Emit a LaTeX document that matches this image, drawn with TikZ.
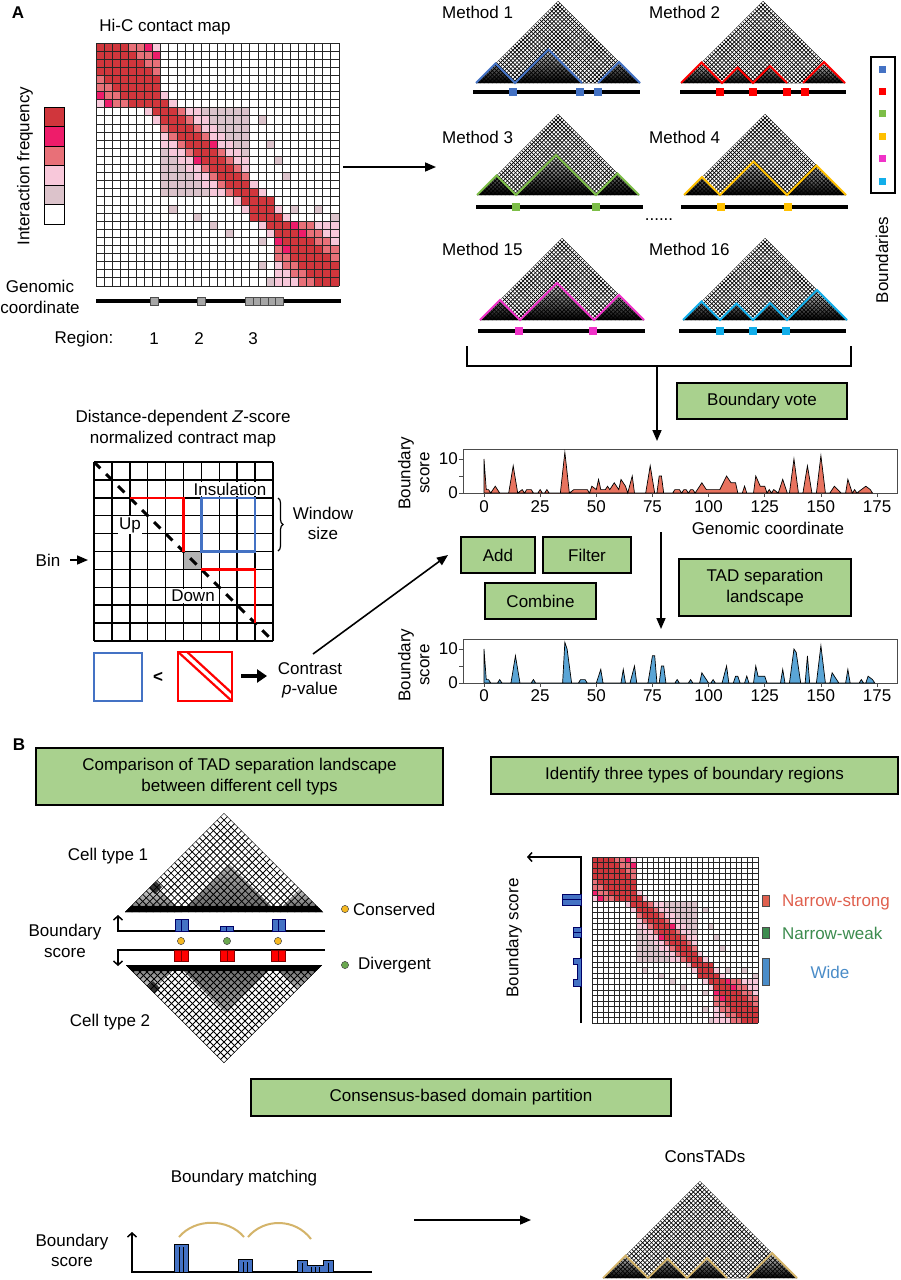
\documentclass[tikz,border=0pt]{standalone}
\usepackage{fontspec}
\setmainfont{Liberation Sans}
\usetikzlibrary{arrows.meta,decorations.pathreplacing}

\definecolor{hd}{HTML}{D0363C}
\definecolor{hm}{HTML}{EE1C6A}
\definecolor{hs}{HTML}{E87078}
\definecolor{hl}{HTML}{F8C8DA}
\definecolor{hg}{HTML}{DCC3CB}
\definecolor{hw}{HTML}{FFFFFF}
\definecolor{boxg}{HTML}{A9D18E}
\definecolor{mblue}{HTML}{4472C4}
\definecolor{mred}{HTML}{FF0000}
\definecolor{mgreen}{HTML}{7DBE48}
\definecolor{myellow}{HTML}{FFC000}
\definecolor{mmag}{HTML}{F032C8}
\definecolor{mcyan}{HTML}{12AEEA}
\definecolor{pred}{HTML}{E8735F}
\definecolor{pblue}{HTML}{5AA5D6}
\definecolor{tanc}{HTML}{D4B46A}
\definecolor{nsred}{HTML}{E0604E}
\definecolor{nwgreen}{HTML}{3D8C4F}
\definecolor{wblue}{HTML}{4A8CC8}
\definecolor{dotyel}{HTML}{F5B820}
\definecolor{dotgrn}{HTML}{6AA84F}

\newcommand\fs{\fontsize{17}{20.5}\selectfont}

% magenta cells of the Hi-C map
\def\defmag#1#2{\expandafter\def\csname magc#1x#2\endcsname{}\expandafter\def\csname magc#2x#1\endcsname{}}
\defmag{0}{6}\defmag{1}{7}\defmag{12}{14}\defmag{22}{24}\defmag{23}{25}
% scattered light cells outside domains
\def\defgr#1#2{\expandafter\def\csname grc#1x#2\endcsname{}\expandafter\def\csname grc#2x#1\endcsname{}}
\defgr{9}{20}\defgr{12}{21}\defgr{20}{24}\defgr{20}{27}\defgr{21}{29}\defgr{16}{23}\defgr{14}{22}
\def\tadid#1{\ifnum#1<8 1\else\ifnum#1<19 2\else\ifnum#1<22 3\else 4\fi\fi\fi}
\def\hiccol#1#2{%
  \edef\ta{\tadid{#1}}\edef\tb{\tadid{#2}}%
  \ifnum#1>#2 \edef\dd{\the\numexpr#1-#2\relax}\else\edef\dd{\the\numexpr#2-#1\relax}\fi
  \def\cc{hw}%
  \ifnum\dd<2 \def\cc{hd}\else
    \ifnum\ta=\tb\relax
      \ifcase\ta\relax\or
        \ifnum\dd<4 \def\cc{hd}\else\ifnum\dd<6 \def\cc{hs}\else\def\cc{hl}\fi\fi
      \or
        \ifnum\dd<3 \def\cc{hs}\else\ifnum\dd<5 \def\cc{hl}\else\def\cc{hg}\fi\fi
      \or
        \def\cc{hd}%
      \or
        \ifnum\dd<3 \def\cc{hd}\else\ifnum\dd<5 \def\cc{hs}\else\def\cc{hl}\fi\fi
      \fi
    \else
      \ifnum\dd<3 \def\cc{hl}\fi
    \fi
  \fi
  \ifcsname grc#1x#2\endcsname\def\cc{hg}\fi
  \ifcsname magc#1x#2\endcsname\def\cc{hm}\fi
}
\newcommand\hicmap[4]{%
  \foreach \i in {0,...,29}{\foreach \j in {0,...,29}{%
    \hiccol{\i}{\j}%
    \fill[\cc] ({#1+\j*#3},{#2+\i*#3}) rectangle ++(#3,#3);
  }}
  \foreach \k in {0,...,30}{
    \draw[line width=#4,black!85] ({#1+\k*#3},#2) -- ++(0,{30*#3});
    \draw[line width=#4,black!85] (#1,{#2+\k*#3}) -- ++({30*#3},0);
  }
}
% mesh triangle, apex up: apex x, apex y, half width, n, line width
\newcommand\meshup[5]{%
  \begin{scope}
    \clip (#1,#2) -- ({#1-#3},{#2+#3}) -- ({#1+#3},{#2+#3}) -- cycle;
    \foreach \k in {0,...,#4}{
      \draw[line width=#5] ({#1-#3+\k*2*#3/#4},{#2+#3}) -- ++({-#3},{-#3});
      \draw[line width=#5] ({#1-#3+\k*2*#3/#4},{#2+#3}) -- ++({#3},{-#3});
    }
  \end{scope}
}
% mesh triangle, apex down
\newcommand\meshdown[5]{%
  \begin{scope}
    \clip (#1,#2) -- ({#1-#3},{#2-#3}) -- ({#1+#3},{#2-#3}) -- cycle;
    \foreach \k in {0,...,#4}{
      \draw[line width=#5] ({#1-#3+\k*2*#3/#4},{#2-#3}) -- ++({-#3},{#3});
      \draw[line width=#5] ({#1-#3+\k*2*#3/#4},{#2-#3}) -- ++({#3},{#3});
    }
  \end{scope}
}

\begin{document}
\begin{tikzpicture}[x=1pt,y=-1pt,
  every node/.style={font=\fs, inner sep=0pt},
  gbox/.style={draw=black, line width=1.5pt, fill=boxg, align=center},
  arr/.style={-{Triangle[length=11pt,width=9pt]}, line width=1.6pt},
  barb/.style={-{Straight Barb[length=4pt,width=9pt]}, line width=1.5pt},
  shd/.style={top color=black!12, middle color=black!45, bottom color=black},
  shdl/.style={top color=black!10, bottom color=black!60},
  shdlinv/.style={top color=black!60, bottom color=black!10},
  zig/.style={line width=1.8pt, line join=miter},
  gbar/.style={line width=4.5pt},
  wl/.style={fill=white, inner sep=1pt}]

\useasboundingbox (0,0) rectangle (901,1280);
\fill[white] (0,0) rectangle (901,1280);

%================ Panel A : Hi-C map =================
\node[font=\fs\bfseries] (lblA) at (18,13) {A};
\node (hictitle) at (165,27) {Hi-C contact map};
\hicmap{96}{43}{8.1}{0.9}
\node[rotate=90] (ifreq) at (25,166) {Interaction frequency};
\foreach \c [count=\n from 0] in {hd,hm,hs,hl,hg,hw}
  \filldraw[fill=\c, draw=black, line width=1] (44,{107+\n*19.5}) rectangle ++(20,19.5);
\node[align=center] (gcoord) at (40,297) {Genomic\\coordinate};
\draw[gbar] (96,301) -- (341,301);
\foreach \xx in {154,201,249,256.6,264.2,271.8,279.4}
  \filldraw[fill=black!35, draw=black!70, line width=0.6] ({\xx-3.8},297) rectangle ++(7.6,8);
\node (region) at (84,339) {Region:};
\node (r1) at (154,339) {1};
\node (r2) at (199,339) {2};
\node (r3) at (253,339) {3};
\coordinate (hicR) at (343,167);
\coordinate (methL) at (436,167);
\draw[arr] (hicR) -- (methL);

%================ Methods =================
\node[anchor=west] (m1) at (442,12) {Method 1};
\node[anchor=west] (m2) at (649,12) {Method 2};
\node[anchor=west] (m3) at (442,137) {Method 3};
\node[anchor=west] (m4) at (649,137) {Method 4};
\node[anchor=west] (m15) at (442,249) {Method 15};
\node[anchor=west] (m16) at (649,249) {Method 16};
\node (dots) at (659,220) {......};

% Method 1
\fill[shd] (476,83)--(495.5,63.5)--(515,83)--(548.5,49.5)--(582,83)--(598,83)--(619,62)--(640,83)--cycle;
\meshup{558}{1}{82}{40}{0.65}
\draw[zig,mblue] (476,83)--(495.5,63.5)--(515,83)--(548.5,49.5)--(582,83);
\draw[zig,mblue] (598,83)--(619,62)--(640,83);
\draw[gbar] (473,92)--(640,92);
\foreach \xx in {513,580,598} \fill[mblue] ({\xx-4},88) rectangle ++(8,8);
% Method 2
\fill[shd] (681,83)--(701.5,62.5)--(722,83)--(737.5,67.5)--(753,83)--(770,66)--(787,83)--(803,83)--(824,62)--(845,83)--cycle;
\meshup{763}{1}{82}{40}{0.65}
\draw[zig,mred] (681,83)--(701.5,62.5)--(722,83)--(737.5,67.5)--(753,83)--(770,66)--(787,83);
\draw[zig,mred] (803,83)--(824,62)--(845,83);
\draw[gbar] (680,92)--(846,92);
\foreach \xx in {720,753,787,805} \fill[mred] ({\xx-4},88) rectangle ++(8,8);
% Method 3
\fill[shd] (477,195)--(496.5,175.5)--(516,195)--(556,155)--(596,195)--(617.5,173.5)--(639,195)--cycle;
\meshup{558}{114}{81}{40}{0.65}
\draw[zig,mgreen] (477,195)--(496.5,175.5)--(516,195)--(556,155)--(596,195)--(617.5,173.5)--(639,195);
\draw[gbar] (476,207)--(643,207);
\foreach \xx in {516,596} \fill[mgreen] ({\xx-4},203) rectangle ++(8,8);
% Method 4
\fill[shd] (684,195)--(702,177)--(720,195)--(753.5,161.5)--(787,195)--(816.5,165.5)--(846,195)--cycle;
\meshup{765}{114}{81}{40}{0.65}
\draw[zig,myellow] (684,195)--(702,177)--(720,195)--(753.5,161.5)--(787,195)--(816.5,165.5)--(846,195);
\draw[gbar] (681,207)--(848,207);
\foreach \xx in {721,788} \fill[myellow] ({\xx-4},203) rectangle ++(8,8);
% Method 15
\fill[shd] (480,320)--(500,300)--(520,320)--(557,283)--(594,320)--(619,295)--(644,320)--cycle;
\meshup{562}{238}{82}{40}{0.65}
\draw[zig,mmag] (480,320)--(500,300)--(520,320)--(557,283)--(594,320)--(619,295)--(644,320);
\draw[gbar] (478,331)--(645,331);
\foreach \xx in {519,593} \fill[mmag] ({\xx-4},327) rectangle ++(8,8);
% Method 16
\fill[shd] (683,320)--(701.5,301.5)--(720,320)--(736.5,303.5)--(753,320)--(770,303)--(787,320)--(817,290)--(847,320)--cycle;
\meshup{765}{238}{82}{40}{0.65}
\draw[zig,mcyan] (683,320)--(701.5,301.5)--(720,320)--(736.5,303.5)--(753,320)--(770,303)--(787,320)--(817,290)--(847,320);
\draw[gbar] (679,331)--(846,331);
\foreach \xx in {720,753,786} \fill[mcyan] ({\xx-4},327) rectangle ++(8,8);

% Boundaries legend
\draw[line width=1.8] (871,57) rectangle (895,193);
\foreach \c [count=\n from 0] in {mblue,mred,mgreen,myellow,mmag,mcyan}
  \fill[\c] (878.5,{65.5+\n*22.4}) rectangle ++(7,7);
\node[rotate=90] (bnd) at (882,260) {Boundaries};

% bracket and vote
\draw[line width=1.3] (467,346) -- (467,366) -- (851,366) -- (851,346);
\coordinate (brk) at (657,366);
\coordinate (p1top) at (657,441);
\draw[arr] (brk) -- (p1top);
\node[gbox, minimum width=170pt, minimum height=36pt] (vote) at (762,401) {Boundary vote};

%================ Plot 1 =================
\draw[black!70, line width=0.8] (463,449) rectangle (897,493);
\begin{scope}[shift={(484,493)}, x=2.246pt, y=3.4pt]
\draw[fill=pred, line width=0.7] (0,0)--(0,10)--(1,1)--(2,1)--(3,0)--(5,2)--(7,0)--(11,0)--(13,8)--(15,0)--(17,1)--(18,0)--(19,1)--(21,1)--(22,0)--(24,0)--(25,1)--(26,0)--(27,0)--(28,1)--(29,0)--(34,0)--(36,12)--(38,0)--(40,1)--(46,1)--(47,0)--(48,2)--(50,1)--(51,4)--(52,1)--(54,1)--(55,2)--(56,1)--(58,3)--(59,2)--(60,1)--(61,4)--(63,2)--(64,0)--(66,5)--(67,0)--(72,0)--(74,8)--(76,0)--(77,0)--(78,5)--(79,5)--(80,0)--(84,0)--(85,1)--(87,1)--(88,0)--(89,1)--(90,1)--(91,0)--(92,1)--(93,1)--(94,0)--(97,3)--(99,1)--(105,1)--(108,5)--(110,3)--(112,3)--(113,0)--(115,0)--(116,2)--(117,0)--(120,0)--(121,5)--(123,2)--(125,2)--(126,0)--(127,1)--(128,0)--(129,1)--(131,0)--(133,4)--(135,0)--(136,0)--(138,10)--(140,0)--(142,0)--(144,8)--(146,0)--(148,0)--(150,11)--(152,0)--(154,0)--(156,2)--(159,0)--(161,0)--(162,4)--(164,0)--(165,1)--(166,0)--(168,1)--(170,2)--(172,1)--(173,0)--cycle;
\foreach \t in {0,25,...,175} \draw[black!70, line width=0.8] (\t,0) -- (\t,-1.2);
\foreach \v in {0,5,10} \draw[black!70, line width=0.8] (-9.35,\v) -- (-11.2,\v);
\end{scope}
\foreach \t in {0,25,...,175} \node (xa\t) at ({484+\t*2.246},507) {\t};
\node[anchor=east] (ya10) at (458,459) {10};
\node[anchor=east] (ya0) at (458,493) {0};
\node[rotate=90] (ylA1) at (406,473) {Boundary};
\node[rotate=90] (ylA2) at (425,473) {score};
\node (gcx) at (768,528) {Genomic coordinate};

% arrows and boxes
\coordinate (a2s) at (661,532);
\coordinate (a2e) at (661,629);
\draw[arr] (a2s) -- (a2e);
\node[gbox, minimum width=74pt, minimum height=36pt] (add) at (498,555) {Add};
\node[gbox, minimum width=88pt, minimum height=36pt] (filter) at (587,555) {Filter};
\node[gbox, minimum width=111pt, minimum height=36pt] (combine) at (540.5,601) {Combine};
\node[gbox, minimum width=172pt, minimum height=57pt] (tadsep) at (765,587.5) {TAD separation\\landscape};

%================ Plot 2 =================
\draw[black!70, line width=0.8] (463,639) rectangle (897,683);
\begin{scope}[shift={(484,683)}, x=2.246pt, y=3.4pt]
\draw[fill=pblue, line width=0.7] (0,0)--(0,10)--(1,1)--(2,1)--(3,0)--(6,0)--(7,1)--(8,0)--(12,0)--(14,8)--(16,0)--(21,0)--(22,1)--(23,0)--(35,0)--(36,12)--(37,10)--(39,0)--(42,0)--(43,1)--(45,1)--(46,0)--(50,0)--(51,2)--(52,4)--(53,0)--(61,0)--(62,4)--(63,0)--(65,0)--(67,5)--(68,0)--(73,0)--(75,8)--(76,8)--(77,0)--(78,0)--(79,5)--(80,5)--(81,0)--(85,0)--(86,1)--(87,0)--(91,0)--(92,1)--(93,0)--(96,0)--(97,3)--(99,1)--(100,0)--(101,0)--(102,1)--(103,0)--(106,0)--(108,5)--(109,0)--(111,0)--(112,2)--(113,2)--(114,0)--(116,0)--(117,2)--(118,0)--(120,0)--(121,5)--(122,2)--(125,2)--(126,0)--(132,0)--(133,4)--(134,0)--(136,0)--(138,10)--(139,9)--(141,0)--(143,0)--(144,8)--(145,0)--(148,0)--(150,11)--(152,0)--(154,0)--(155,3)--(158,0)--(161,0)--(162,4)--(163,0)--(167,0)--(168,1)--(169,0)--(170,0)--(171,2)--(173,1)--(174,0)--cycle;
\foreach \t in {0,25,...,175} \draw[black!70, line width=0.8] (\t,0) -- (\t,-1.2);
\foreach \v in {0,5,10} \draw[black!70, line width=0.8] (-9.35,\v) -- (-11.2,\v);
\end{scope}
\foreach \t in {0,25,...,175} \node (xb\t) at ({484+\t*2.246},696) {\t};
\node[anchor=east] (yb10) at (458,649) {10};
\node[anchor=east] (yb0) at (458,683) {0};
\node[rotate=90] (ylB1) at (406,665) {Boundary};
\node[rotate=90] (ylB2) at (425,665) {score};

%================ Z-score map =================
\node[align=center] (ztitle) at (183,428.5) {Distance-dependent \textit{Z}-score\\normalized contract map};
\fill[black!30] (183.5,551.5) rectangle ++(17.9,17.9);
\foreach \k in {0,...,10}{
  \draw[line width=1.5] ({94+\k*17.9},462) -- ++(0,179);
  \draw[line width=1.5] (94,{462+\k*17.9}) -- ++(179,0);
}
\draw[line width=3, dash pattern=on 9pt off 8pt] (94,462) -- (273,641);
\draw[mred, line width=2.4] (129.8,497.8) -- (183.5,497.8) -- (183.5,551.5);
\draw[mred, line width=2.4] (201.4,569.4) -- (255.1,569.4) -- (255.1,623.1);
\draw[mblue, line width=2.4] (201.4,497.8) rectangle (255.1,551.5);
\node[wl] (ins) at (230,489) {Insulation};
\node[wl] (up) at (130,525) {Up};
\node[wl] (down) at (193,596) {Down};
\draw[line width=1.2, decorate, decoration={brace, amplitude=5pt}] (278,498) -- (278,551);
\node[align=center] (wsize) at (323,523.5) {Window\\size};
\node (bin) at (48,560) {Bin};
\coordinate (binA) at (70,560);
\coordinate (binB) at (88,560);
\draw[arr] (binA) -- (binB);
\draw[mblue, line width=2.5] (94,653) rectangle (142,701);
\node[font=\fs\bfseries] (lt) at (158,677) {<};
\draw[mred, line width=2.5] (178,652) rectangle (232,701);
\begin{scope}
  \clip (178,652) rectangle (232,701);
  \draw[mred, line width=2.2] (176,650) -- (234,703);
  \draw[mred, line width=2.2] (185,650) -- (234,695);
\end{scope}
\coordinate (tkA) at (241,676);
\coordinate (tkB) at (267,676);
\draw[-{Triangle[length=10pt,width=13pt]}, line width=4.5pt] (tkA) -- (tkB);
\node[align=center] (contrast) at (310,680.5) {Contrast\\\textit{p}-value};
\coordinate (cs) at (313,654);
\coordinate (ce) at (448,555);
\draw[arr] (cs) -- (ce);

%================ Panel B left =================
\node[font=\fs\bfseries] (lblB) at (19,745) {B};
\node[gbox, minimum width=407pt, minimum height=57pt] (cmp) at (239.5,776.5) {Comparison of TAD separation landscape\\between different cell typs};
% top triangle
\begin{scope}
  \clip (224,813) -- (125,912) -- (323,912) -- cycle;
  \fill[shdl] (125,912) -- (153,884) -- (181,912) -- cycle;
  \fill[shdl, opacity=0.6] (181,912) -- (229,864) -- (277,912) -- cycle;
  \fill[shdl, opacity=0.8] (277,912) -- (300,889) -- (323,912) -- cycle;
  \fill[black!80] (155,880) -- (162,887) -- (155,894) -- (148,887) -- cycle;
  \fill[black] (125,906) rectangle (323,913);
\end{scope}
\meshup{224}{813}{99}{28}{0.8}
% bottom triangle
\begin{scope}
  \clip (224,1063) -- (126,965) -- (322,965) -- cycle;
  \fill[shdlinv] (126,965) -- (152,991) -- (178,965) -- cycle;
  \fill[shdlinv, opacity=0.6] (178,965) -- (226,1013) -- (274,965) -- cycle;
  \fill[shdlinv, opacity=0.8] (274,965) -- (298,989) -- (322,965) -- cycle;
  \fill[black!80] (153,981) -- (160,988) -- (153,995) -- (146,988) -- cycle;
  \fill[black] (126,964) rectangle (322,971);
\end{scope}
\meshdown{224}{1063}{98}{28}{0.8}
\node (ct1) at (108,856) {Cell type 1};
\node[align=center] (bsc) at (65,941) {Boundary\\score};
\node (ct2) at (110,1022) {Cell type 2};
\coordinate (axt0) at (325,931);
\coordinate (axt1) at (118,931);
\coordinate (axt2) at (118,915);
\draw[barb] (axt0) -- (axt1) -- (axt2);
\coordinate (axb0) at (325,950);
\coordinate (axb1) at (118,950);
\coordinate (axb2) at (118,966);
\draw[barb] (axb0) -- (axb1) -- (axb2);
\foreach \xa/\ya in {175/919,220/926,272/919}{
  \filldraw[fill=mblue, draw=black!60!blue, line width=0.6] (\xa,\ya) rectangle ({\xa+6.5},931);
  \filldraw[fill=mblue, draw=black!60!blue, line width=0.6] ({\xa+6.5},\ya) rectangle ({\xa+13},931);
}
\foreach \xa in {174,220,271}{
  \filldraw[fill=mred, draw=black!50!red, line width=0.6] (\xa,950) rectangle ({\xa+7},961);
  \filldraw[fill=mred, draw=black!50!red, line width=0.6] ({\xa+7},950) rectangle ({\xa+14},961);
}
\filldraw[fill=dotyel, draw=black!70, line width=0.5] (181,941) circle (3.6);
\filldraw[fill=dotgrn, draw=black!70, line width=0.5] (227,941) circle (3.6);
\filldraw[fill=dotyel, draw=black!70, line width=0.5] (278,941) circle (3.6);
\filldraw[fill=dotyel, draw=black!70, line width=0.5] (345,909) circle (3.6);
\node[anchor=west] (cons) at (353,909) {Conserved};
\filldraw[fill=dotgrn, draw=black!70, line width=0.5] (345,965) circle (3.6);
\node[anchor=west] (div) at (358,965) {Divergent};

%================ Panel B right =================
\node[gbox, minimum width=407pt, minimum height=37pt] (ident) at (694.5,775.5) {Identify three types of boundary regions};
\hicmap{592}{857}{5.533}{0.5}
\coordinate (ax0) at (581,1023);
\coordinate (ax1) at (581,857);
\coordinate (ax2) at (527,857);
\draw[barb] (ax0) -- (ax1) -- (ax2);
\node[rotate=90] (bsr) at (514,938) {Boundary score};
\filldraw[fill=mblue, draw=black!60!blue, line width=0.6] (562,894) rectangle (581,899.5);
\filldraw[fill=mblue, draw=black!60!blue, line width=0.6] (562,899.5) rectangle (581,905);
\filldraw[fill=mblue, draw=black!60!blue, line width=0.6] (573,927) rectangle (581,932);
\filldraw[fill=mblue, draw=black!60!blue, line width=0.6] (573,932) rectangle (581,937);
\filldraw[fill=mblue, draw=black!60!blue, line width=0.6] (573,958) -- (581,958) -- (581,986) -- (573,986) -- (573,979) -- (577,979) -- (577,964) -- (573,964) -- cycle;
\filldraw[fill=nsred, draw=black!70, line width=0.6] (762,895) rectangle (769,906);
\filldraw[fill=nwgreen, draw=black!70, line width=0.6] (762,927) rectangle (769,938);
\filldraw[fill=wblue, draw=black!70, line width=0.6] (762,958) rectangle (769,985);
\node[anchor=west, text=nsred] (ns) at (782,902) {Narrow-strong};
\node[anchor=west, text=nwgreen] (nw) at (782,933) {Narrow-weak};
\node[text=wblue] (wide) at (830,972) {Wide};

%================ Bottom =================
\node[gbox, minimum width=420pt, minimum height=37pt] (consbox) at (461,1097.5) {Consensus-based domain partition};
\node (bmatch) at (244,1178) {Boundary matching};
\node (constads) at (705,1157) {ConsTADs};
\coordinate (bmA) at (414,1220);
\coordinate (bmB) at (531,1220);
\draw[arr] (bmA) -- (bmB);
\node[align=center] (bsc2) at (72,1250.5) {Boundary\\score};
\coordinate (bx0) at (372,1272);
\coordinate (bx1) at (132,1272);
\coordinate (bx2) at (132,1232);
\draw[barb] (bx0) -- (bx1) -- (bx2);
\filldraw[fill=mblue, draw=black, line width=0.8] (174,1244) rectangle (188,1272);
\draw[line width=0.8] (179,1247) -- (179,1272) (183,1247) -- (183,1272);
\filldraw[fill=mblue, draw=black, line width=0.8] (238,1259) rectangle (252,1272);
\draw[line width=0.8] (243,1262) -- (243,1272) (247,1262) -- (247,1272);
\filldraw[fill=mblue, draw=black, line width=0.8] (297,1272) -- (297,1260) -- (307,1260) -- (307,1265) -- (323,1265) -- (323,1260) -- (333,1260) -- (333,1272) -- cycle;
\draw[line width=0.8] (302,1263) -- (302,1272) (311,1267) -- (311,1272) (315,1267) -- (315,1272) (319,1267) -- (319,1272) (328,1263) -- (328,1272);
\draw[tanc, line width=2] (179,1237) .. controls (195,1218) and (228,1218) .. (244,1237);
\draw[tanc, line width=2] (248,1237) .. controls (264,1218) and (295,1218) .. (311,1239);
% ConsTADs triangle
\fill[shd] (603,1278)--(625.5,1255.5)--(648,1278)--(667.5,1258.5)--(687,1278)--(707,1258)--(727,1278)--(747,1278)--(772,1253)--(797,1278)--cycle;
\meshup{700}{1181}{97}{44}{0.65}
\draw[zig,tanc] (603,1278)--(625.5,1255.5)--(648,1278)--(667.5,1258.5)--(687,1278)--(707,1258)--(727,1278);
\draw[zig,tanc] (747,1278)--(772,1253)--(797,1278);

\end{tikzpicture}
\end{document}
